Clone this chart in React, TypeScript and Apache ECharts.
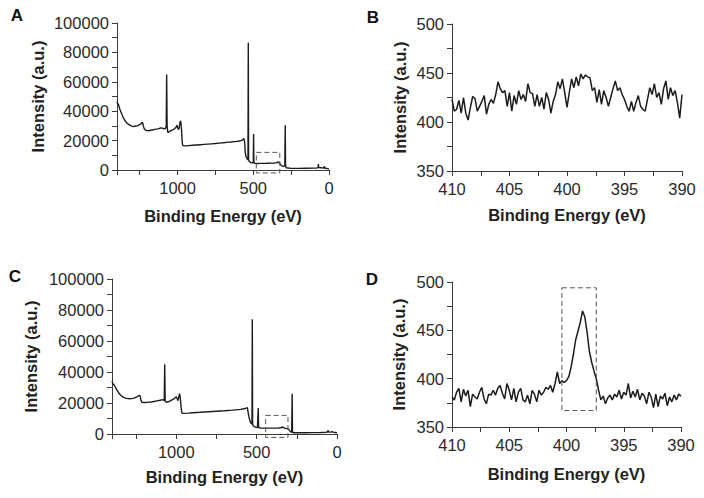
import React, { useEffect, useRef } from "react";
import * as echarts from "echarts";

// Survey spectrum A: [binding energy (eV), intensity]
const surveyA: [number, number][] = [
  [1400, 46500], [1395, 45000], [1390, 44500], [1380, 41000], [1370, 38500], [1360, 36000],
  [1350, 34000], [1340, 32500], [1330, 31500], [1320, 30800], [1310, 30200], [1300, 29800],
  [1290, 29600], [1280, 29800], [1270, 30000], [1260, 30300], [1250, 30800], [1240, 31500],
  [1235, 32500], [1230, 32000], [1225, 29500], [1220, 28000], [1210, 27000], [1200, 26800],
  [1190, 26700], [1180, 27000], [1170, 27200], [1160, 27400], [1150, 27600], [1140, 27800],
  [1130, 28000], [1120, 28300], [1110, 28600], [1100, 28500], [1090, 28000], [1080, 28200],
  [1075, 30000], [1072, 65000], [1069, 30000], [1065, 25500], [1060, 25800], [1050, 26500],
  [1040, 27000], [1030, 27500], [1020, 28000], [1010, 29000], [1005, 30500], [1000, 29000],
  [995, 27500], [990, 28500], [985, 32000], [980, 33500], [977, 31000], [973, 26000],
  [970, 20000], [967, 17000], [960, 16500], [950, 16400], [925, 16600], [900, 16800],
  [875, 17000], [850, 17200], [825, 17400], [800, 17600], [775, 17800], [750, 18000],
  [725, 18300], [700, 18500], [675, 18800], [650, 19000], [625, 19300], [600, 19600],
  [580, 20000], [570, 20500], [562, 21500], [557, 19000], [553, 12000], [548, 9000],
  [540, 7500], [535, 7000], [533, 86500], [531, 7000], [525, 5500], [515, 5000],
  [505, 4800], [500, 5500], [498, 24500], [496, 5000], [490, 4500], [480, 4400],
  [450, 4500], [420, 4500], [400, 4600], [380, 4700], [360, 4800], [345, 5000],
  [340, 5500], [335, 5200], [330, 4800], [325, 4500], [315, 3000], [300, 2500],
  [292, 2800], [289, 30500], [287, 4000], [283, 1500], [280, 1200], [250, 1100],
  [200, 1100], [150, 1200], [100, 1300], [80, 1400], [72, 1600], [70, 4000],
  [68, 1600], [50, 1500], [35, 1300], [30, 2500], [28, 1200], [20, 1200],
  [10, 900], [0, 700],
];

// Survey spectrum C
const surveyC: [number, number][] = [
  [1400, 34000], [1395, 32500], [1390, 32000], [1380, 30500], [1370, 28500], [1360, 26800],
  [1350, 25500], [1340, 24500], [1330, 23800], [1320, 23300], [1310, 23000], [1300, 22800],
  [1290, 22700], [1280, 22800], [1270, 23000], [1260, 23300], [1250, 23700], [1240, 24300],
  [1230, 25000], [1225, 24500], [1220, 22000], [1215, 20500], [1200, 20300], [1180, 20400],
  [1160, 20600], [1140, 21000], [1120, 21400], [1100, 21800], [1090, 22000], [1080, 22200],
  [1075, 21500], [1072, 45000], [1069, 21000], [1060, 20500], [1050, 20800], [1040, 21200],
  [1030, 21800], [1020, 22300], [1010, 23000], [1000, 24000], [995, 23000], [990, 21500],
  [985, 23500], [980, 26000], [977, 25000], [973, 21000], [970, 17000], [965, 13500],
  [955, 13300], [925, 13500], [900, 13700], [850, 14000], [800, 14400], [750, 14700],
  [700, 15000], [650, 15400], [600, 15900], [580, 16300], [565, 16700], [558, 17000],
  [553, 14000], [548, 11000], [540, 8000], [535, 7000], [529, 6500], [527, 74000],
  [525, 6000], [518, 5000], [505, 4300], [495, 4200], [490, 16800], [488, 4200],
  [480, 3900], [460, 3800], [430, 3800], [400, 3800], [380, 3800], [360, 3900],
  [345, 4200], [340, 4600], [335, 4200], [325, 3800], [310, 3500], [300, 3000],
  [290, 1500], [282, 1000], [279, 26000], [277, 1500], [273, 800], [250, 800],
  [200, 800], [150, 900], [100, 1000], [70, 1100], [60, 1300], [55, 2300],
  [53, 1200], [40, 1200], [30, 1500], [25, 1200], [10, 1000], [0, 800],
];

// Narrow scans (N 1s region)
const narrowEnergy = [
  410.0, 409.8, 409.6, 409.4, 409.2, 409.0, 408.8, 408.6, 408.4, 408.2,
  408.0, 407.8, 407.6, 407.4, 407.2, 407.0, 406.8, 406.6, 406.4, 406.2,
  406.0, 405.8, 405.6, 405.4, 405.2, 405.0, 404.8, 404.6, 404.4, 404.2,
  404.0, 403.8, 403.6, 403.4, 403.2, 403.0, 402.8, 402.6, 402.4, 402.2,
  402.0, 401.8, 401.6, 401.4, 401.2, 401.0, 400.8, 400.6, 400.4, 400.2,
  400.0, 399.8, 399.6, 399.4, 399.2, 399.0, 398.8, 398.6, 398.4, 398.2,
  398.0, 397.8, 397.6, 397.4, 397.2, 397.0, 396.8, 396.6, 396.4, 396.2,
  396.0, 395.8, 395.6, 395.4, 395.2, 395.0, 394.8, 394.6, 394.4, 394.2,
  394.0, 393.8, 393.6, 393.4, 393.2, 393.0, 392.8, 392.6, 392.4, 392.2,
  392.0, 391.8, 391.6, 391.4, 391.2, 391.0, 390.8, 390.6, 390.4, 390.2,
  390.0,
];

const narrowB = [
  423, 411, 413, 422, 409, 425, 409, 402, 415, 426,
  424, 411, 416, 421, 427, 408, 418, 423, 419, 428,
  441, 434, 430, 432, 416, 430, 411, 427, 418, 432,
  423, 428, 421, 439, 430, 429, 416, 428, 416, 425,
  413, 430, 423, 409, 421, 428, 441, 434, 444, 430,
  415, 430, 444, 435, 446, 437, 449, 444, 448, 446,
  445, 432, 435, 420, 433, 418, 432, 425, 416, 425,
  434, 442, 432, 435, 428, 423, 416, 411, 421, 411,
  420, 427, 416, 413, 411, 423, 435, 428, 439, 425,
  430, 418, 434, 442, 423, 435, 427, 432, 420, 404,
  428,
];

const narrowD = [
  381, 378, 386, 390, 376, 389, 382, 388, 371, 384,
  381, 379, 386, 391, 379, 374, 384, 383, 388, 383,
  390, 393, 385, 379, 395, 388, 378, 390, 376, 386,
  390, 378, 376, 383, 374, 388, 384, 376, 388, 383,
  386, 391, 389, 393, 386, 395, 407, 395, 398, 396,
  398, 402, 412, 425, 440, 449, 458, 470, 464, 448,
  428, 417, 408, 400, 388, 378, 382, 374, 380, 383,
  378, 384, 381, 388, 379, 386, 383, 395, 380, 387,
  381, 389, 378, 385, 382, 374, 386, 381, 370, 384,
  371, 382, 379, 385, 372, 381, 376, 383, 378, 384,
  382,
];

// Dashed boxes: [eV left, eV right, intensity bottom, intensity top]
const boxA = [480, 325, -2000, 12000];
const boxC = [444, 305, -2200, 12000];
const boxD = [400.4, 397.4, 367, 494];

const panelLetters = ["A", "B", "C", "D"];

const FONT = "'Liberation Sans', Arial, Helvetica, sans-serif";

function boxPath(b: number[]): [number, number][] {
  return [
    [b[0], b[3]],
    [b[1], b[3]],
    [b[1], b[2]],
    [b[0], b[2]],
    [b[0], b[3]],
  ];
}

function zip(xs: number[], ys: number[]): [number, number][] {
  return xs.map((x, i) => [x, ys[i]]);
}

export default function App() {
  const ref = useRef<HTMLDivElement>(null);

  useEffect(() => {
    if (!ref.current) return;
    const chart = echarts.init(ref.current, undefined, { renderer: "svg" });

    const panels = [
      {
        grid: { left: 117, top: 23, width: 212, height: 147 },
        x: { min: 0, max: 1400, interval: 250, step: 500 },
        y: { min: 0, max: 100000, interval: 10000, step: 20000 },
        data: surveyA,
        box: boxA,
        xGap: 37,
        yGap: 71,
        lw: 1.4,
      },
      {
        grid: { left: 452, top: 24, width: 230, height: 147 },
        x: { min: 390, max: 410, interval: 2.5, step: 5 },
        y: { min: 350, max: 500, interval: 25, step: 50 },
        data: zip(narrowEnergy, narrowB),
        box: null,
        xGap: 35,
        yGap: 44,
        lw: 1.5,
      },
      {
        grid: { left: 112, top: 279, width: 225, height: 155 },
        x: { min: 0, max: 1400, interval: 250, step: 500 },
        y: { min: 0, max: 100000, interval: 10000, step: 20000 },
        data: surveyC,
        box: boxC,
        xGap: 34,
        yGap: 73,
        lw: 1.4,
      },
      {
        grid: { left: 452, top: 282, width: 229, height: 145 },
        x: { min: 390, max: 410, interval: 2.5, step: 5 },
        y: { min: 350, max: 500, interval: 25, step: 50 },
        data: zip(narrowEnergy, narrowD),
        box: boxD,
        xGap: 38,
        yGap: 45,
        lw: 1.5,
      },
    ];

    const isMultiple = (v: number, s: number) =>
      Math.abs(v / s - Math.round(v / s)) < 1e-6;

    const axisColor = "#3a3a3a";

    const grids = panels.map((p) => ({ ...p.grid }));
    const xAxes = panels.map((p, i) => ({
      gridIndex: i,
      type: "value",
      inverse: true,
      min: p.x.min,
      max: p.x.max,
      interval: p.x.interval,
      axisLine: { show: true, onZero: false, lineStyle: { color: axisColor, width: 1 } },
      axisTick: { show: true, inside: false, length: 5, lineStyle: { color: axisColor } },
      splitLine: { show: false },
      axisLabel: {
        color: "#2a2a2a",
        fontSize: 16.5,
        fontFamily: FONT,
        margin: 9,
        formatter: (v: number) => (isMultiple(v, p.x.step) ? String(v) : ""),
      },
      name: "Binding Energy (eV)",
      nameLocation: "middle",
      nameGap: p.xGap,
      nameTextStyle: { fontWeight: "bold", fontSize: 16.5, color: "#222", fontFamily: FONT },
    }));
    const yAxes = panels.map((p, i) => ({
      gridIndex: i,
      type: "value",
      min: p.y.min,
      max: p.y.max,
      interval: p.y.interval,
      axisLine: { show: true, onZero: false, lineStyle: { color: axisColor, width: 1 } },
      axisTick: { show: true, inside: false, length: 5, lineStyle: { color: axisColor } },
      splitLine: { show: false },
      axisLabel: {
        color: "#2a2a2a",
        fontSize: 16.5,
        fontFamily: FONT,
        margin: 8,
        formatter: (v: number) => (isMultiple(v, p.y.step) ? String(v) : ""),
      },
      name: "Intensity (a.u.)",
      nameLocation: "middle",
      nameGap: p.yGap,
      nameTextStyle: { fontWeight: "bold", fontSize: 16.5, color: "#222", fontFamily: FONT },
    }));

    const series: any[] = [];
    panels.forEach((p, i) => {
      series.push({
        type: "line",
        xAxisIndex: i,
        yAxisIndex: i,
        data: p.data,
        showSymbol: false,
        symbol: "none",
        smooth: false,
        lineStyle: { color: "#1c1c1c", width: p.lw },
        silent: true,
      });
      if (p.box) {
        series.push({
          type: "line",
          xAxisIndex: i,
          yAxisIndex: i,
          data: boxPath(p.box),
          symbol: "none",
          clip: false,
          silent: true,
          lineStyle: { color: "#555", width: 1, type: [5, 3] },
          z: 3,
        });
      }
    });

    const letterPos = [
      [17, 15],
      [373, 17],
      [15, 276],
      [372, 279],
    ];

    chart.setOption({
      animation: false,
      backgroundColor: "#ffffff",
      grid: grids,
      xAxis: xAxes,
      yAxis: yAxes,
      series,
      graphic: panelLetters.map((t, i) => ({
        type: "text",
        x: letterPos[i][0],
        y: letterPos[i][1],
        style: {
          text: t,
          fill: "#111",
          font: `bold 17px ${FONT}`,
          textAlign: "center",
          textVerticalAlign: "middle",
        },
      })),
    });

    return () => chart.dispose();
  }, []);

  return (
    <div
      ref={ref}
      style={{ position: "fixed", left: 0, top: 0, width: 704, height: 498, background: "#fff" }}
    />
  );
}
